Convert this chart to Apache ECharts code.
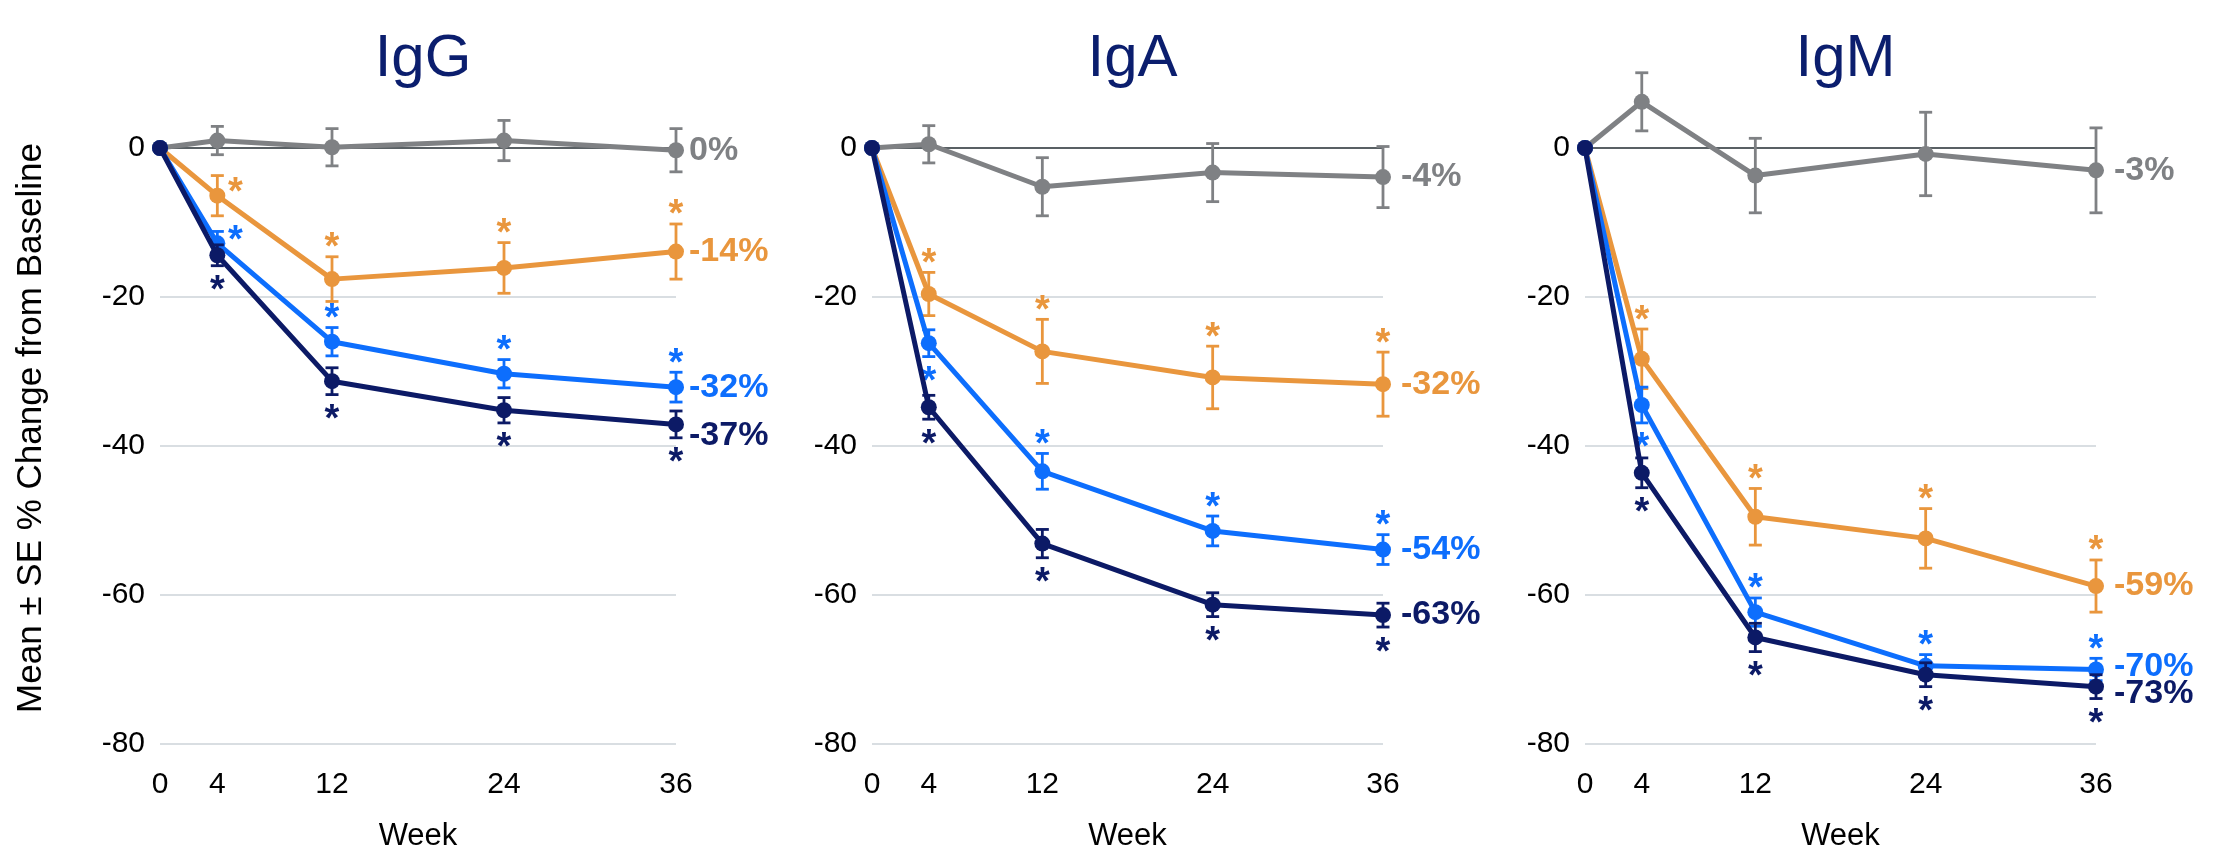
<!DOCTYPE html>
<html>
<head>
<meta charset="utf-8">
<script src="https://cdn.jsdelivr.net/npm/echarts@6/dist/echarts.min.js"></script>
<style>
html,body{margin:0;padding:0;background:#fff;}
#chart{width:2217px;height:857px;}
</style>
</head>
<body>
<div id="chart"></div>
<script>
// ---------- DATA ----------
const weeks = [0, 4, 12, 24, 36];
const weekTicks = [0, 4, 12, 24, 36];
const yTicks = [0, -20, -40, -60, -80];
const panelTitles = ['IgG', 'IgA', 'IgM'];
const seriesNames = ['Group 1', 'Group 2', 'Group 3', 'Group 4'];
const yAxisTitle = 'Mean ± SE % Change from Baseline';
const xAxisTitle = 'Week';

// IgG
const igG_gray = [0, 1.0, 0.1, 1.0, -0.3];
const igG_gray_se = [0, 1.9, 2.5, 2.7, 2.9];
const igG_orange = [0, -6.4, -17.6, -16.1, -13.9];
const igG_orange_se = [0, 2.7, 3.0, 3.4, 3.7];
const igG_blue = [0, -12.8, -26.0, -30.3, -32.1];
const igG_blue_se = [0, 1.6, 1.9, 1.9, 2.0];
const igG_navy = [0, -14.4, -31.3, -35.2, -37.1];
const igG_navy_se = [0, 1.4, 1.8, 1.7, 1.8];
const igG_endLabels = ['0%', '-14%', '-32%', '-37%'];
const igG_sig_gray = ['', '', '', '', ''];
const igG_sig_orange = ['', 'r', 'a', 'a', 'a'];
const igG_sig_blue = ['', 'r', 'a', 'a', 'a'];
const igG_sig_navy = ['', 'b', 'b', 'b', 'b'];

// IgA
const igA_gray = [0, 0.5, -5.2, -3.3, -3.9];
const igA_gray_se = [0, 2.5, 3.9, 3.9, 4.1];
const igA_orange = [0, -19.6, -27.3, -30.8, -31.7];
const igA_orange_se = [0, 2.9, 4.3, 4.2, 4.3];
const igA_blue = [0, -26.2, -43.4, -51.4, -53.9];
const igA_blue_se = [0, 1.8, 2.4, 2.0, 2.0];
const igA_navy = [0, -34.8, -53.1, -61.3, -62.7];
const igA_navy_se = [0, 1.6, 1.9, 1.6, 1.6];
const igA_endLabels = ['-4%', '-32%', '-54%', '-63%'];
const igA_sig_gray = ['', '', '', '', ''];
const igA_sig_orange = ['', 'a', 'a', 'a', 'a'];
const igA_sig_blue = ['', 'b', 'a', 'a', 'a'];
const igA_sig_navy = ['', 'b', 'b', 'b', 'b'];

// IgM
const igM_gray = [0, 6.2, -3.7, -0.8, -3.0];
const igM_gray_se = [0, 3.9, 5.0, 5.6, 5.7];
const igM_orange = [0, -28.3, -49.5, -52.4, -58.8];
const igM_orange_se = [0, 4.0, 3.8, 4.0, 3.5];
const igM_blue = [0, -34.5, -62.3, -69.5, -70.0];
const igM_blue_se = [0, 2.4, 1.9, 1.5, 1.5];
const igM_navy = [0, -43.6, -65.7, -70.7, -72.3];
const igM_navy_se = [0, 2.0, 1.9, 1.6, 1.6];
const igM_endLabels = ['-3%', '-59%', '-70%', '-73%'];
const igM_sig_gray = ['', '', '', '', ''];
const igM_sig_orange = ['', 'a', 'a', 'a', 'a'];
const igM_sig_blue = ['', 'b', 'a', 'a', 'a'];
const igM_sig_navy = ['', 'b', 'b', 'b', 'b'];

// ---------- STYLE / LAYOUT ----------
const FONT = '"Liberation Sans", Arial, Helvetica, sans-serif';
const COLORS = ['#7F8184', '#E9963D', '#0D6EFD', '#0C1A66'];
const TITLE_COLOR = '#0B1E6E';
const GRID_LEFT = [160, 872, 1585];
const GRID_WIDTH = [516, 511, 511];
const GRID_TOP = 148;
const GRID_HEIGHT = 604;
const LABEL_DIST = [5, 10, 10];
const LABEL_DY = [[0, 0, 0, 11], [0, 0, 0, 0], [0, 0, -3, 7]];
const CAP = 6.5;

const panels = [
  { title: panelTitles[0],
    means: [igG_gray, igG_orange, igG_blue, igG_navy],
    ses: [igG_gray_se, igG_orange_se, igG_blue_se, igG_navy_se],
    sig: [igG_sig_gray, igG_sig_orange, igG_sig_blue, igG_sig_navy],
    labels: igG_endLabels },
  { title: panelTitles[1],
    means: [igA_gray, igA_orange, igA_blue, igA_navy],
    ses: [igA_gray_se, igA_orange_se, igA_blue_se, igA_navy_se],
    sig: [igA_sig_gray, igA_sig_orange, igA_sig_blue, igA_sig_navy],
    labels: igA_endLabels },
  { title: panelTitles[2],
    means: [igM_gray, igM_orange, igM_blue, igM_navy],
    ses: [igM_gray_se, igM_orange_se, igM_blue_se, igM_navy_se],
    sig: [igM_sig_gray, igM_sig_orange, igM_sig_blue, igM_sig_navy],
    labels: igM_endLabels }
];

function makeErr(col, sig) {
  return function (params, api) {
    const x = api.value(0), m = api.value(1), s = api.value(2);
    const i = params.dataIndex;
    const c = api.coord([x, m]);
    const kids = [];
    let top = c, bot = c;
    if (s > 0) {
      top = api.coord([x, m + s]);
      bot = api.coord([x, m - s]);
      const st = { stroke: col, lineWidth: 2.8 };
      kids.push({ type: 'line', shape: { x1: c[0], y1: top[1], x2: c[0], y2: bot[1] }, style: st });
      kids.push({ type: 'line', shape: { x1: c[0] - CAP, y1: top[1], x2: c[0] + CAP, y2: top[1] }, style: st });
      kids.push({ type: 'line', shape: { x1: c[0] - CAP, y1: bot[1], x2: c[0] + CAP, y2: bot[1] }, style: st });
    }
    const sg = sig[i];
    if (sg) {
      let tx = c[0], ty;
      if (sg === 'a') ty = top[1] - 8;
      else if (sg === 'b') ty = bot[1] + 26;
      else { tx = c[0] + 18; ty = c[1] - 2; }
      kids.push({ type: 'text', style: { text: '*', x: tx, y: ty, fill: col,
        fontSize: 38, fontWeight: 'bold', fontFamily: FONT, align: 'center', verticalAlign: 'middle' } });
    }
    return { type: 'group', children: kids };
  };
}

const grids = [], xAxes = [], yAxes = [], titles = [], series = [];
panels.forEach((p, pi) => {
  grids.push({ left: GRID_LEFT[pi], top: GRID_TOP, width: GRID_WIDTH[pi], height: GRID_HEIGHT });
  titles.push({ text: p.title, left: GRID_LEFT[pi] + GRID_WIDTH[pi] / 2, top: 24, textAlign: 'center',
    textStyle: { fontSize: 60, fontWeight: 'normal', color: TITLE_COLOR, fontFamily: FONT } });
  xAxes.push({ gridIndex: pi, type: 'value', min: 0, max: 36, interval: 4,
    axisLine: { show: false, onZero: false }, axisTick: { show: false }, splitLine: { show: false },
    axisLabel: { formatter: v => (weekTicks.indexOf(v) >= 0 ? String(v) : ''), fontSize: 30, color: '#000', margin: 26, fontFamily: FONT },
    name: xAxisTitle, nameLocation: 'middle', nameGap: 77,
    nameTextStyle: { fontSize: 31, color: '#000', fontFamily: FONT } });
  yAxes.push({ gridIndex: pi, type: 'value', min: -80, max: 0, interval: 20,
    axisLine: { show: false }, axisTick: { show: false },
    axisLabel: { formatter: v => (yTicks.indexOf(v) >= 0 ? String(v) : ''), fontSize: 30, color: '#000', margin: 15, fontFamily: FONT },
    splitLine: { show: true, lineStyle: { color: ['#D9DEE2', '#D9DEE2', '#D9DEE2', '#D9DEE2', '#596064'], width: 2 } } });

  p.means.forEach((vals, gi) => {
    const col = COLORS[gi];
    const n = vals.length;
    series.push({
      type: 'line', name: seriesNames[gi], xAxisIndex: pi, yAxisIndex: pi,
      data: weeks.map((w, i) => {
        const item = { value: [w, vals[i]] };
        if (i === n - 1) {
          item.label = { show: true, formatter: p.labels[gi], position: 'right', distance: LABEL_DIST[pi],
            offset: [0, LABEL_DY[pi][gi]], color: col, fontSize: 34, fontWeight: 'bold', fontFamily: FONT };
        }
        return item;
      }),
      symbol: 'circle', symbolSize: 16, showSymbol: true,
      lineStyle: { color: col, width: 5 }, itemStyle: { color: col },
      clip: false, silent: true, z: 2 + gi
    });
    series.push({
      type: 'custom', xAxisIndex: pi, yAxisIndex: pi,
      data: weeks.map((w, i) => [w, vals[i], p.ses[gi][i]]),
      encode: { x: 0, y: 1 },
      renderItem: makeErr(col, p.sig[gi]),
      clip: false, silent: true, z: 2 + gi
    });
  });
});

const chart = echarts.init(document.getElementById('chart'), null, { renderer: 'canvas' });
chart.setOption({
  animation: false,
  backgroundColor: '#fff',
  title: titles,
  grid: grids,
  xAxis: xAxes,
  yAxis: yAxes,
  graphic: [{
    type: 'text', x: 31, y: 428, rotation: Math.PI / 2,
    style: { text: yAxisTitle, fontSize: 35, fill: '#000', fontFamily: FONT, align: 'center', verticalAlign: 'middle' }
  }],
  series: series
});
</script>
</body>
</html>
